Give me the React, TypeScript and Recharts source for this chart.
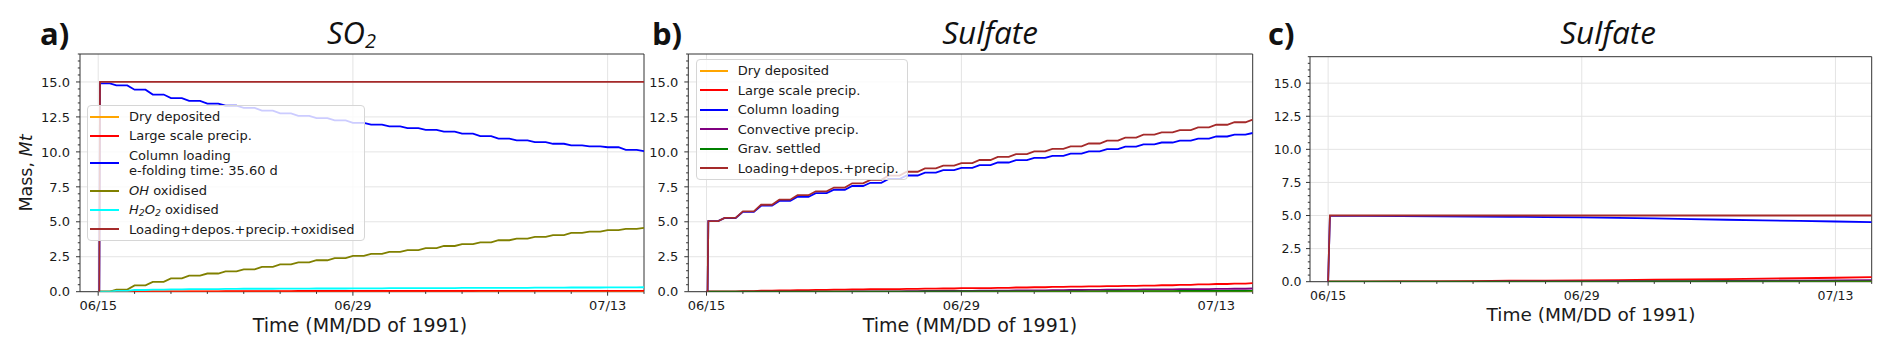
import React from 'react';
import { LineChart, Line, XAxis, YAxis, CartesianGrid, ReferenceArea, Legend } from 'recharts';

const FONT = '"DejaVu Sans", sans-serif';
const TITLE_FONT = '"Open Sans", sans-serif';

const ORANGE = '#ffa500';
const RED = '#ff0000';
const BLUE = '#0000ff';
const OLIVE = '#808000';
const CYAN = '#00ffff';
const BROWN = '#a52a2a';
const PURPLE = '#800080';
const GREEN = '#008000';

// axis ticks
const X_DOMAIN = [-1, 30];
const Y_DOMAIN = [0, 17];
const X_TICKS = [0, 2, 4, 6, 8, 10, 12, 14, 16, 18, 20, 22, 24, 26, 28, 30];
const X_MAJOR = [0, 14, 28];
const X_LABELS = ['06/15', '06/29', '07/13'];
const Y_TICKS = [0, 0.5, 1, 1.5, 2, 2.5, 3, 3.5, 4, 4.5, 5, 5.5, 6, 6.5, 7, 7.5, 8, 8.5, 9, 9.5, 10, 10.5, 11, 11.5, 12, 12.5, 13, 13.5, 14, 14.5, 15, 15.5, 16, 16.5, 17];
const Y_MAJOR = [0, 2.5, 5, 7.5, 10, 12.5, 15];

// Panel a) SO2 — days since 06/15
const DAYS_A = [0, 0.1, 1, 2, 3, 4, 5, 6, 7, 8, 9, 10, 11, 12, 13, 14, 15, 16, 17, 18, 19, 20, 21, 22, 23, 24, 25, 26, 27, 28, 29, 30];
const A_DRY = [0, 0, 0, 0, 0.01, 0.01, 0.01, 0.01, 0.01, 0.01, 0.01, 0.01, 0.01, 0.01, 0.01, 0.01, 0.01, 0.01, 0.01, 0.01, 0.01, 0.01, 0.01, 0.01, 0.01, 0.01, 0.01, 0.01, 0.01, 0.01, 0.01, 0.01];
const A_LSP = [0, 0, 0.01, 0.02, 0.02, 0.03, 0.03, 0.03, 0.04, 0.04, 0.04, 0.04, 0.05, 0.05, 0.05, 0.05, 0.05, 0.05, 0.05, 0.05, 0.05, 0.05, 0.06, 0.06, 0.06, 0.06, 0.06, 0.06, 0.06, 0.06, 0.06, 0.06];
const A_COL = [0, 14.9, 14.75, 14.45, 14.1, 13.85, 13.65, 13.45, 13.3, 13.15, 12.95, 12.75, 12.58, 12.42, 12.25, 12.08, 11.95, 11.82, 11.7, 11.58, 11.45, 11.3, 11.12, 10.95, 10.82, 10.7, 10.58, 10.47, 10.4, 10.33, 10.15, 10.05];
const A_OH = [0, 0, 0.15, 0.45, 0.7, 0.95, 1.15, 1.3, 1.45, 1.6, 1.78, 1.95, 2.1, 2.25, 2.4, 2.56, 2.7, 2.85, 2.98, 3.12, 3.27, 3.4, 3.53, 3.68, 3.8, 3.92, 4.05, 4.2, 4.3, 4.41, 4.5, 4.57];
const A_H2O2 = [0, 0, 0.06, 0.12, 0.15, 0.17, 0.18, 0.19, 0.2, 0.21, 0.21, 0.22, 0.22, 0.23, 0.23, 0.24, 0.24, 0.25, 0.25, 0.26, 0.26, 0.27, 0.27, 0.28, 0.28, 0.29, 0.29, 0.3, 0.3, 0.31, 0.31, 0.32];
const A_TOTAL = [0, 15, 15, 15, 15, 15, 15, 15, 15, 15, 15, 15, 15, 15, 15, 15, 15, 15, 15, 15, 15, 15, 15, 15, 15, 15, 15, 15, 15, 15, 15, 15];

// Panel b) Sulfate
const DAYS_B = [0, 0.1, 1, 2, 3, 4, 5, 6, 7, 8, 9, 10, 11, 12, 13, 14, 15, 16, 17, 18, 19, 20, 21, 22, 23, 24, 25, 26, 27, 28, 29, 30];
const B_DRY = [0, 0, 0, 0, 0, 0.01, 0.01, 0.01, 0.01, 0.01, 0.01, 0.01, 0.01, 0.01, 0.01, 0.01, 0.01, 0.01, 0.02, 0.02, 0.02, 0.02, 0.02, 0.02, 0.02, 0.02, 0.02, 0.02, 0.03, 0.03, 0.03, 0.03];
const B_LSP = [0, 0, 0.01, 0.04, 0.07, 0.09, 0.11, 0.13, 0.15, 0.16, 0.18, 0.19, 0.2, 0.22, 0.23, 0.25, 0.26, 0.28, 0.3, 0.32, 0.34, 0.36, 0.38, 0.4, 0.42, 0.44, 0.46, 0.49, 0.52, 0.55, 0.58, 0.61];
const B_COL = [0, 5.05, 5.27, 5.71, 6.15, 6.49, 6.79, 7.05, 7.29, 7.56, 7.79, 8.06, 8.31, 8.52, 8.7, 8.85, 9.05, 9.24, 9.41, 9.57, 9.72, 9.87, 10.03, 10.19, 10.37, 10.54, 10.67, 10.8, 10.95, 11.1, 11.23, 11.35];
const B_CONV = [0, 0, 0, 0, 0, 0, 0, 0, 0.01, 0.02, 0.02, 0.03, 0.04, 0.05, 0.05, 0.06, 0.07, 0.08, 0.09, 0.1, 0.11, 0.12, 0.13, 0.14, 0.15, 0.16, 0.17, 0.18, 0.19, 0.2, 0.21, 0.23];
const B_GRAV = [0, 0, 0, 0, 0, 0, 0, 0.01, 0.01, 0.01, 0.01, 0.01, 0.01, 0.02, 0.02, 0.02, 0.02, 0.02, 0.03, 0.03, 0.03, 0.03, 0.03, 0.04, 0.04, 0.04, 0.04, 0.05, 0.05, 0.05, 0.05, 0.06];
const B_TOTAL = [0, 5.05, 5.28, 5.75, 6.22, 6.58, 6.9, 7.18, 7.45, 7.75, 8.0, 8.3, 8.58, 8.82, 9.02, 9.2, 9.42, 9.64, 9.84, 10.04, 10.22, 10.4, 10.6, 10.8, 11.02, 11.23, 11.4, 11.56, 11.75, 11.94, 12.12, 12.3];

// Panel c) Sulfate
const DAYS_C = [0, 0.1, 2, 4, 6, 8, 10, 12, 14, 16, 18, 20, 22, 24, 26, 28, 30];
const C_DRY = [0, 0, 0.01, 0.01, 0.01, 0.01, 0.01, 0.01, 0.01, 0.01, 0.01, 0.01, 0.01, 0.01, 0.01, 0.01, 0.01];
const C_LSP = [0, 0, 0.01, 0.02, 0.03, 0.05, 0.07, 0.08, 0.1, 0.12, 0.15, 0.17, 0.2, 0.23, 0.26, 0.3, 0.35];
const C_COL = [0, 4.98, 4.97, 4.96, 4.94, 4.92, 4.9, 4.88, 4.86, 4.82, 4.78, 4.73, 4.68, 4.63, 4.59, 4.55, 4.5];
const C_CONV = [0, 0, 0, 0, 0.01, 0.01, 0.02, 0.02, 0.03, 0.04, 0.05, 0.05, 0.06, 0.07, 0.08, 0.1, 0.12];
const C_GRAV = [0, 0, 0, 0, 0, 0, 0.01, 0.01, 0.01, 0.01, 0.02, 0.02, 0.02, 0.02, 0.03, 0.03, 0.03];
const C_TOTAL = [0, 5, 5, 5, 5, 5, 5, 5, 5, 5, 5, 5, 5, 5, 5, 5, 5];

type Series = { key: string; name: string; color: string; values: number[] };

const A_SERIES: Series[] = [
  { key: 'dry', name: 'Dry deposited', color: ORANGE, values: A_DRY },
  { key: 'lsp', name: 'Large scale precip.', color: RED, values: A_LSP },
  { key: 'col', name: 'Column loading', color: BLUE, values: A_COL },
  { key: 'oh', name: 'OH oxidised', color: OLIVE, values: A_OH },
  { key: 'h2o2', name: 'H2O2 oxidised', color: CYAN, values: A_H2O2 },
  { key: 'total', name: 'Loading+depos.+precip.+oxidised', color: BROWN, values: A_TOTAL },
];
const B_SERIES: Series[] = [
  { key: 'dry', name: 'Dry deposited', color: ORANGE, values: B_DRY },
  { key: 'lsp', name: 'Large scale precip.', color: RED, values: B_LSP },
  { key: 'col', name: 'Column loading', color: BLUE, values: B_COL },
  { key: 'conv', name: 'Convective precip.', color: PURPLE, values: B_CONV },
  { key: 'grav', name: 'Grav. settled', color: GREEN, values: B_GRAV },
  { key: 'total', name: 'Loading+depos.+precip.', color: BROWN, values: B_TOTAL },
];
const C_SERIES: Series[] = [
  { key: 'dry', name: 'Dry deposited', color: ORANGE, values: C_DRY },
  { key: 'lsp', name: 'Large scale precip.', color: RED, values: C_LSP },
  { key: 'col', name: 'Column loading', color: BLUE, values: C_COL },
  { key: 'conv', name: 'Convective precip.', color: PURPLE, values: C_CONV },
  { key: 'grav', name: 'Grav. settled', color: GREEN, values: C_GRAV },
  { key: 'total', name: 'Loading+depos.+precip.', color: BROWN, values: C_TOTAL },
];

const buildTable = (days: number[], series: Series[]) =>
  days.map((d, i) => {
    const row: Record<string, number> = { d };
    series.forEach((s) => {
      row[s.key] = s.values[i];
    });
    return row;
  });

// Curve style: hold the level for part of each interval, then step to the next value
const stairCurve = (context: any) => {
  let px = 0;
  let py = 0;
  let started = false;
  return {
    areaStart() {},
    areaEnd() {},
    lineStart() {
      started = false;
    },
    lineEnd() {},
    point(x: number, y: number) {
      x = +x;
      y = +y;
      if (!started) {
        context.moveTo(x, y);
        started = true;
      } else {
        context.lineTo(px + (x - px) * 0.6, py);
        context.lineTo(x, y);
      }
      px = x;
      py = y;
    },
  };
};

const sub = (t: string) => (
  <span style={{ fontSize: '0.72em', position: 'relative', top: '0.28em' }}>{t}</span>
);

const legendLabel = (name: string): React.ReactNode => {
  if (name === 'OH oxidised')
    return (
      <>
        <i>OH</i> oxidised
      </>
    );
  if (name === 'H2O2 oxidised')
    return (
      <>
        <i>
          H{sub('2')}O{sub('2')}
        </i>{' '}
        oxidised
      </>
    );
  return name;
};

function LegendBox({
  series,
  width,
  rowH,
  extra,
  lineLeft,
  lineW,
}: {
  series: Series[];
  width: number;
  rowH: number;
  extra?: Record<string, string>;
  lineLeft: number;
  lineW: number;
}) {
  return (
    <div
      style={{
        width,
        boxSizing: 'border-box',
        background: 'rgba(255,255,255,0.8)',
        border: '1px solid #d6d6d6',
        borderRadius: 4,
        padding: '1px 0',
        fontFamily: FONT,
        fontSize: 13,
        color: '#1a1a1a',
      }}
    >
      {series.map((s) => {
        const more = extra && extra[s.key];
        return (
          <div
            key={s.key}
            style={{ display: 'flex', alignItems: 'center', height: more ? rowH + 16 : rowH }}
          >
            <div
              style={{
                width: lineW,
                height: 0,
                borderTop: `2px solid ${s.color}`,
                marginLeft: lineLeft,
                marginRight: 10,
                flex: 'none',
              }}
            />
            <div style={{ lineHeight: '15px', whiteSpace: 'nowrap' }}>
              <div>{legendLabel(s.name)}</div>
              {more && <div>{more}</div>}
            </div>
          </div>
        );
      })}
    </div>
  );
}

const makeXTick = (fs: number, dy: number) => (props: any) => {
  const { x, y, payload } = props;
  const i = X_MAJOR.indexOf(payload.value);
  const major = i >= 0;
  return (
    <g>
      <line x1={x} x2={x} y1={y} y2={y + (major ? 4 : 2.2)} stroke="#333" strokeWidth={1} />
      {major && (
        <text x={x} y={y + dy} textAnchor="middle" fontSize={fs} fontFamily={FONT} fill="#1a1a1a">
          {X_LABELS[i]}
        </text>
      )}
    </g>
  );
};

const makeYTick = (fs: number, gap: number) => (props: any) => {
  const { x, y, payload } = props;
  const v = payload.value;
  const major = Y_MAJOR.includes(v);
  return (
    <g>
      <line x1={x} x2={x - (major ? 4 : 2.2)} y1={y} y2={y} stroke="#333" strokeWidth={1} />
      {major && (
        <text x={x - gap} y={y} dy={fs * 0.36} textAnchor="end" fontSize={fs} fontFamily={FONT} fill="#1a1a1a">
          {v.toFixed(1)}
        </text>
      )}
    </g>
  );
};

function Panel({
  left,
  width,
  height,
  margin,
  yAxisWidth,
  days,
  series,
  legend,
  fs,
  xdy,
  ygap,
  stairs,
}: {
  left: number;
  width: number;
  height: number;
  margin: { top: number; right: number; bottom: number; left: number };
  yAxisWidth: number;
  days: number[];
  series: Series[];
  legend?: React.ReactNode;
  fs: number;
  xdy: number;
  ygap: number;
  stairs: boolean;
}) {
  const data = buildTable(days, series);
  return (
    <div style={{ position: 'absolute', left, top: 0, width, height }}>
      <LineChart width={width} height={height} data={data} margin={margin}>
        <CartesianGrid horizontalValues={Y_MAJOR} verticalValues={X_MAJOR} stroke="#e4e4e4" strokeWidth={1} />
        <XAxis
          dataKey="d"
          type="number"
          domain={X_DOMAIN}
          ticks={X_TICKS}
          interval={0}
          tick={makeXTick(fs, xdy)}
          tickLine={false}
          axisLine={false}
          tickSize={0}
          tickMargin={0}
          height={30}
          allowDataOverflow
        />
        <YAxis
          type="number"
          domain={Y_DOMAIN}
          ticks={Y_TICKS}
          interval={0}
          tick={makeYTick(fs, ygap)}
          tickLine={false}
          axisLine={false}
          tickSize={0}
          tickMargin={0}
          width={yAxisWidth}
          allowDataOverflow
        />
        {series.map((s) => (
          <Line
            key={s.key}
            type={stairs ? (stairCurve as any) : 'linear'}
            dataKey={s.key}
            name={s.name}
            stroke={s.color}
            strokeWidth={1.8}
            dot={false}
            activeDot={false}
            isAnimationActive={false}
          />
        ))}
        <ReferenceArea x1={-1} x2={30} y1={0} y2={17} fill="none" stroke="#333" strokeWidth={1} ifOverflow="visible" />
        {legend}
      </LineChart>
    </div>
  );
}

export default function App() {
  const legendA = (
    <Legend
      layout="vertical"
      align="center"
      verticalAlign="middle"
      wrapperStyle={{ left: 87, top: 105, width: 278 }}
      content={() => (
        <LegendBox
          series={A_SERIES}
          width={278}
          rowH={19.3}
          extra={{ col: 'e-folding time: 35.60 d' }}
          lineLeft={2}
          lineW={29}
        />
      )}
    />
  );
  const legendB = (
    <Legend
      layout="vertical"
      align="center"
      verticalAlign="middle"
      wrapperStyle={{ left: 55.7, top: 59, width: 212 }}
      content={() => <LegendBox series={B_SERIES} width={212} rowH={19.5} lineLeft={3} lineW={28} />}
    />
  );

  return (
    <div
      style={{
        position: 'absolute',
        left: 0,
        top: 0,
        width: 1892,
        height: 353,
        background: '#ffffff',
        overflow: 'hidden',
      }}
    >
      <Panel
        left={0}
        width={660}
        height={353}
        margin={{ top: 54, right: 16, bottom: 31.3, left: 30 }}
        yAxisWidth={50}
        days={DAYS_A}
        series={A_SERIES}
        legend={legendA}
        fs={13}
        xdy={18.3}
        ygap={10}
        stairs
      />
      <Panel
        left={640}
        width={640}
        height={353}
        margin={{ top: 54, right: 27.3, bottom: 31.3, left: 8.3 }}
        yAxisWidth={40}
        days={DAYS_B}
        series={B_SERIES}
        legend={legendB}
        fs={13}
        xdy={18.3}
        ygap={10}
        stairs
      />
      <Panel
        left={1260}
        width={632}
        height={353}
        margin={{ top: 56.7, right: 20.3, bottom: 41.3, left: 10 }}
        yAxisWidth={40}
        days={DAYS_C}
        series={C_SERIES}
        fs={12.5}
        xdy={18.5}
        ygap={8.5}
        stairs={false}
      />
      <svg
        width={1892}
        height={353}
        style={{ position: 'absolute', left: 0, top: 0, pointerEvents: 'none' }}
      >
        <g fontFamily={TITLE_FONT} fill="#111">
          <text x={40} y={45} fontSize={31} fontWeight={700}>a)</text>
          <text x={652} y={45} fontSize={31} fontWeight={700}>b)</text>
          <text x={1268} y={45} fontSize={31} fontWeight={700}>c)</text>
          <text x={327} y={44} fontSize={31} fontStyle="italic">
            SO<tspan fontSize={20} dy={4}>2</tspan>
          </text>
          <text x={990} y={44} fontSize={31.5} fontStyle="italic" textAnchor="middle">Sulfate</text>
          <text x={1608} y={44} fontSize={31.5} fontStyle="italic" textAnchor="middle">Sulfate</text>
        </g>
        <g fontFamily={FONT} fill="#1a1a1a">
          <text x={360} y={332} fontSize={19} textAnchor="middle">Time (MM/DD of 1991)</text>
          <text x={970} y={332} fontSize={19} textAnchor="middle">Time (MM/DD of 1991)</text>
          <text x={1591} y={321} fontSize={18.5} textAnchor="middle">Time (MM/DD of 1991)</text>
          <text transform="rotate(-90)" x={-173} y={32} fontSize={17.5} textAnchor="middle">
            Mass, <tspan fontStyle="italic">Mt</tspan>
          </text>
        </g>
      </svg>
    </div>
  );
}
